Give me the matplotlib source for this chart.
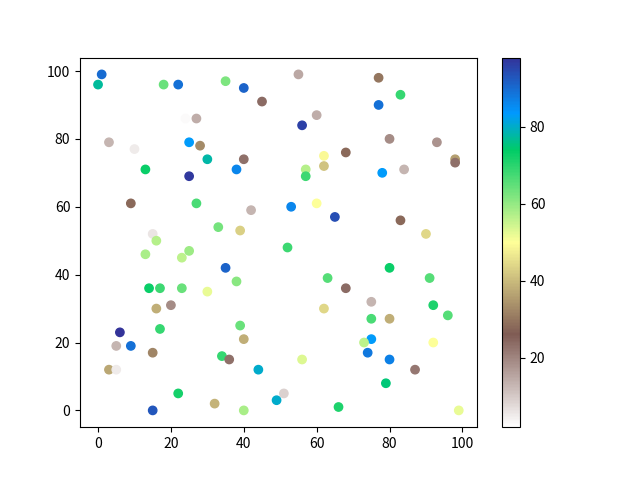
import matplotlib
matplotlib.use("Agg")
import matplotlib.pyplot as plt

plt.rcParams["font.family"] = ["Noto Sans CJK SC", "DejaVu Sans"]

# point positions and colour values
x = [1, 0, 18, 22, 35, 40, 50, 45, 24, 27,
     3, 10, 25, 28, 30, 40, 13, 25, 38, 9,
     27, 42, 53, 33, 39, 15, 16, 52, 55, 77,
     83, 77, 60, 56, 80, 93, 68, 62, 98, 98,
     57, 62, 57, 78, 84, 60, 65, 83, 90, 13,
     23, 25, 35, 38, 14, 17, 23, 30, 20, 16,
     17, 39, 40, 6, 5, 9, 15, 34, 36, 3,
     5, 44, 22, 15, 32, 40, 49, 51, 80, 63,
     91, 68, 75, 62, 92, 96, 75, 80, 75, 73,
     74, 80, 92, 56, 87, 79, 66, 99]
y = [99, 96, 96, 96, 97, 95, 96, 91, 86, 86,
     79, 77, 79, 78, 74, 74, 71, 69, 71, 61,
     61, 59, 60, 54, 53, 52, 50, 48, 99, 98,
     93, 90, 87, 84, 80, 79, 76, 75, 74, 73,
     71, 72, 69, 70, 71, 61, 57, 56, 52, 46,
     45, 47, 42, 38, 36, 36, 36, 35, 31, 30,
     24, 25, 21, 23, 19, 19, 17, 16, 15, 12,
     12, 12, 5, 0, 2, 0, 3, 5, 42, 39,
     39, 36, 32, 30, 31, 28, 27, 27, 21, 20,
     17, 15, 20, 15, 12, 8, 1, 0]
c = [90, 77, 64, 89, 62, 91, 2, 24, 3, 14,
     13, 5, 83, 33, 78, 23, 73, 97, 86, 28,
     67, 13, 86, 63, 43, 6, 57, 68, 15, 30,
     69, 89, 14, 96, 19, 18, 28, 49, 36, 23,
     57, 41, 68, 83, 13, 50, 94, 28, 44, 58,
     56, 59, 91, 61, 73, 68, 64, 52, 19, 38,
     69, 64, 38, 98, 13, 89, 32, 69, 23, 37,
     5, 80, 72, 93, 39, 58, 80, 9, 73, 66,
     66, 24, 13, 44, 71, 66, 67, 38, 83, 56,
     88, 87, 50, 53, 22, 75, 71, 52]

fig, ax = plt.subplots(figsize=(6.4, 4.8), dpi=100)
sc = ax.scatter(x, y, c=c, cmap="terrain_r")
fig.colorbar(sc, ax=ax)

plt.savefig("out.png", dpi=100)
plt.close()
